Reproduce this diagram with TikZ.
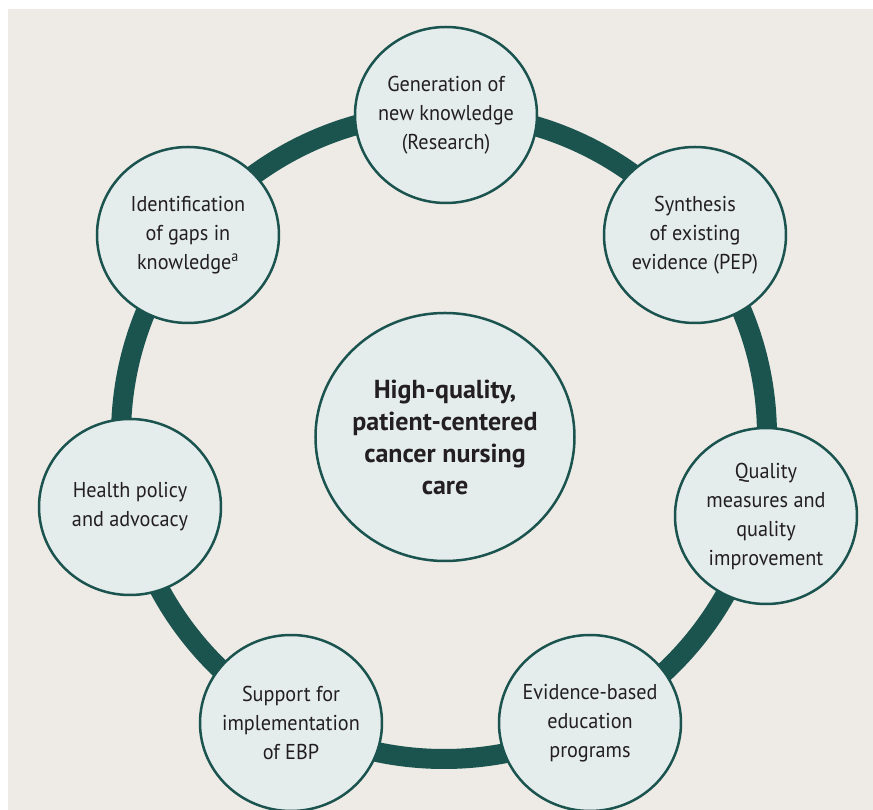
\documentclass[tikz,border=0pt]{standalone}
\usepackage{fontspec}
\setmainfont{PT Sans}[FakeStretch=0.94]
\newfontfamily\hubfont{PT Sans}
\usetikzlibrary{calc,shapes.geometric}
\definecolor{ringteal}{HTML}{1B534F}
\definecolor{paper}{HTML}{EEEBE6}
\definecolor{bubble}{HTML}{E4ECEC}
\definecolor{ink}{HTML}{231F20}
\tikzset{
	stage/.style={ellipse, draw=ringteal, line width=2.5pt, fill=bubble, minimum width=182pt, minimum height=176pt, inner sep=-8pt, align=center, text=ink, font=\fontsize{21.5}{29}\selectfont},
	hubnode/.style={stage, minimum width=259pt, minimum height=248pt, font=\hubfont\bfseries\fontsize{26}{32}\selectfont}
}

\begin{document}
\begin{tikzpicture}[x=1pt, y=1pt]
			%%%%% START %%%%%
			
			\useasboundingbox (-444, -374) rectangle (429, 436);
			\fill[paper] (-436, -374) rectangle (429, 427);
			
			\node[hubnode] (hub) at (1, -1) {High-quality,\\patient-centered\\cancer nursing\\care};
			\draw[ringteal, line width=20pt] (0, 0) circle (323pt);
			
			\node[stage] (gen) at (2, 321) {Generation of\\new knowledge\\(Research)};
			\node[stage] (synth) at (251, 201) {Synthesis\\of existing\\evidence (PEP)};
			\node[stage] (qual) at (322, -80) {Quality\\measures and\\quality\\improvement};
			\node[stage] (edu) at (146, -287) {Evidence-based\\education\\programs};
			\node[stage] (support) at (-153, -287) {Support for\\implementation\\of EBP};
			\node[stage] (policy) at (-314, -71) {Health policy\\and advocacy};
			\node[stage] (gaps) at (-256, 201) {Identification\\of gaps in\\knowledge\textsuperscript{a}};
			
			%%%%% END %%%%%
\end{tikzpicture}
\end{document}
